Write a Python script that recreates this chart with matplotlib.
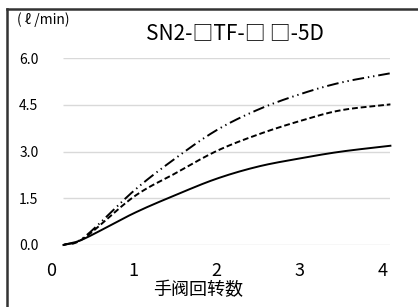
import numpy as np
import matplotlib
matplotlib.use("Agg")
import matplotlib.pyplot as plt
from matplotlib.lines import Line2D

plt.rcParams['font.family'] = ['Noto Sans CJK JP', 'DejaVu Sans']

# turns of the hand valve
turns = [0.15, 0.4, 1.0, 1.5, 2.0, 2.5, 3.0, 3.5, 4.1]
# flow rate (l/min) for the three curves
flow_solid = [0.0, 0.20, 1.02, 1.60, 2.13, 2.52, 2.78, 3.00, 3.19]
flow_dashed = [0.0, 0.22, 1.55, 2.30, 3.02, 3.55, 3.98, 4.33, 4.52]
flow_dashdot = [0.0, 0.25, 1.74, 2.78, 3.69, 4.35, 4.84, 5.22, 5.52]

xticks = [0, 1, 2, 3, 4]
yticks = [0.0, 1.5, 3.0, 4.5, 6.0]
title = "SN2-□TF-□\u2009□-5D"
xlabel = "手阀回转数"
ylabel = "( ℓ /min)"


def smooth(x, y, n=20):
    # catmull-rom style smoothing like a spreadsheet "smoothed line"
    x = np.asarray(x, float)
    y = np.asarray(y, float)
    px = np.concatenate([[2 * x[0] - x[1]], x, [2 * x[-1] - x[-2]]])
    py = np.concatenate([[2 * y[0] - y[1]], y, [2 * y[-1] - y[-2]]])
    xs, ys = [], []
    t = np.linspace(0, 1, n, endpoint=False)
    for i in range(1, len(px) - 2):
        for arr, out in ((px, xs), (py, ys)):
            p0, p1, p2, p3 = arr[i - 1], arr[i], arr[i + 1], arr[i + 2]
            m1 = (p2 - p0) / 2
            m2 = (p3 - p1) / 2
            h00 = 2 * t**3 - 3 * t**2 + 1
            h10 = t**3 - 2 * t**2 + t
            h01 = -2 * t**3 + 3 * t**2
            h11 = t**3 - t**2
            out.extend(h00 * p1 + h10 * m1 + h01 * p2 + h11 * m2)
    xs.append(x[-1])
    ys.append(y[-1])
    return np.array(xs), np.array(ys)


fig = plt.figure(figsize=(4.18, 3.07), dpi=100)
ax = fig.add_axes([0.122, 0.202, 0.812, 0.608])

ax.hlines(yticks, turns[0], turns[-1], color="#d9d9d9", lw=1.0, zorder=1)

lw = 1.4
sx, sy = smooth(turns, flow_solid)
ax.plot(sx, sy, color="black", lw=lw, clip_on=False, zorder=3)
sx, sy = smooth(turns, flow_dashed)
ax.plot(sx, sy, color="black", lw=lw, dashes=(3, 1.5), clip_on=False, zorder=3)
sx, sy = smooth(turns, flow_dashdot)
ax.plot(sx, sy, color="black", lw=lw, dashes=(6, 2, 0.7, 2, 0.7, 2),
        clip_on=False, zorder=3)

ax.set_xlim(0, 4.1)
ax.set_ylim(0, 6.0)
ax.set_xticks(xticks)
ax.set_xticklabels([str(v) for v in xticks], fontsize=13)
ax.set_yticks(yticks)
ax.set_yticklabels(["%.1f" % v for v in yticks], fontsize=10)
ax.tick_params(axis="x", length=0, pad=12)
ax.tick_params(axis="y", length=0, pad=9)
for s in ax.spines.values():
    s.set_visible(False)

fig.text(0.474, 0.055, xlabel, fontsize=13, ha="center", va="center")
fig.text(0.040, 0.935, ylabel, fontsize=10, ha="left", va="center")
fig.text(0.562, 0.892, title, fontsize=15, ha="center", va="center")

# outer frame (left and top edges)
fig.add_artist(Line2D([0.017, 0.017], [0, 0.972], transform=fig.transFigure,
                      color="#333333", lw=1.8))
fig.add_artist(Line2D([0.017, 1.0], [0.972, 0.972], transform=fig.transFigure,
                      color="#333333", lw=1.8))

fig.savefig("out.png", dpi=100)
